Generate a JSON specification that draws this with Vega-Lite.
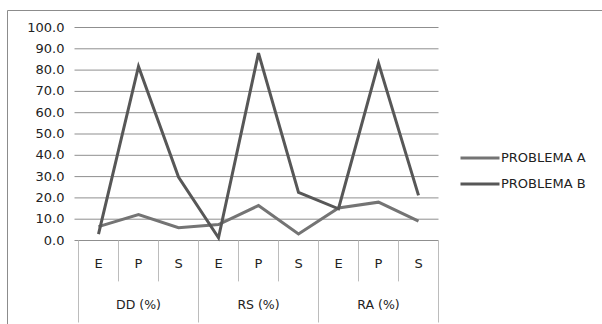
{
  "$schema": "https://vega.github.io/schema/vega-lite/v6.json",
  "width": 595,
  "height": 314,
  "autosize": {"type": "none"},
  "padding": {"left": 7, "top": 10, "right": 0, "bottom": 0},
  "background": "white",
  "config": {
    "view": {"stroke": "#8c8c8c", "strokeWidth": 1},
    "text": {"font": "DejaVu Sans", "fontSize": 13, "color": "#222222"}
  },
  "datasets": {
    "valores": [
      {"indicador": "DD (%)", "nivel": "E", "orden": 1, "problema": "PROBLEMA A", "valor": 6.5},
      {"indicador": "DD (%)", "nivel": "P", "orden": 2, "problema": "PROBLEMA A", "valor": 12.2},
      {"indicador": "DD (%)", "nivel": "S", "orden": 3, "problema": "PROBLEMA A", "valor": 6.0},
      {"indicador": "RS (%)", "nivel": "E", "orden": 4, "problema": "PROBLEMA A", "valor": 7.5},
      {"indicador": "RS (%)", "nivel": "P", "orden": 5, "problema": "PROBLEMA A", "valor": 16.4},
      {"indicador": "RS (%)", "nivel": "S", "orden": 6, "problema": "PROBLEMA A", "valor": 3.1},
      {"indicador": "RA (%)", "nivel": "E", "orden": 7, "problema": "PROBLEMA A", "valor": 15.3},
      {"indicador": "RA (%)", "nivel": "P", "orden": 8, "problema": "PROBLEMA A", "valor": 18.0},
      {"indicador": "RA (%)", "nivel": "S", "orden": 9, "problema": "PROBLEMA A", "valor": 9.1},
      {"indicador": "DD (%)", "nivel": "E", "orden": 1, "problema": "PROBLEMA B", "valor": 3.0},
      {"indicador": "DD (%)", "nivel": "P", "orden": 2, "problema": "PROBLEMA B", "valor": 81.7},
      {"indicador": "DD (%)", "nivel": "S", "orden": 3, "problema": "PROBLEMA B", "valor": 29.8},
      {"indicador": "RS (%)", "nivel": "E", "orden": 4, "problema": "PROBLEMA B", "valor": 1.3},
      {"indicador": "RS (%)", "nivel": "P", "orden": 5, "problema": "PROBLEMA B", "valor": 88.0},
      {"indicador": "RS (%)", "nivel": "S", "orden": 6, "problema": "PROBLEMA B", "valor": 22.6},
      {"indicador": "RA (%)", "nivel": "E", "orden": 7, "problema": "PROBLEMA B", "valor": 14.9},
      {"indicador": "RA (%)", "nivel": "P", "orden": 8, "problema": "PROBLEMA B", "valor": 83.3},
      {"indicador": "RA (%)", "nivel": "S", "orden": 9, "problema": "PROBLEMA B", "valor": 21.2}
    ],
    "rejilla": [
      {"v": 0}, {"v": 10}, {"v": 20}, {"v": 30}, {"v": 40}, {"v": 50},
      {"v": 60}, {"v": 70}, {"v": 80}, {"v": 90}, {"v": 100}
    ],
    "limites": [
      {"limite": 0.5, "tipo": "grupo"},
      {"limite": 1.5, "tipo": "nivel"},
      {"limite": 2.5, "tipo": "nivel"},
      {"limite": 3.5, "tipo": "grupo"},
      {"limite": 4.5, "tipo": "nivel"},
      {"limite": 5.5, "tipo": "nivel"},
      {"limite": 6.5, "tipo": "grupo"},
      {"limite": 7.5, "tipo": "nivel"},
      {"limite": 8.5, "tipo": "nivel"},
      {"limite": 9.5, "tipo": "grupo"}
    ]
  },
  "layer": [
    {
      "data": {"name": "rejilla"},
      "mark": {"type": "rule", "color": "#8f8f8f", "strokeWidth": 1},
      "encoding": {
        "y": {"field": "v", "type": "quantitative", "axis": null},
        "x": {"datum": 0.4, "type": "quantitative", "axis": null},
        "x2": {"datum": 9.5}
      }
    },
    {
      "data": {"name": "rejilla"},
      "mark": {"type": "text", "align": "right", "baseline": "middle", "dx": -14},
      "encoding": {
        "y": {"field": "v", "type": "quantitative", "axis": null},
        "x": {"datum": 0.5, "type": "quantitative", "axis": null},
        "text": {"field": "v", "type": "quantitative", "format": ".1f"}
      }
    },
    {
      "data": {"name": "limites"},
      "transform": [{"filter": "datum.tipo === 'nivel'"}],
      "mark": {"type": "rule", "color": "#bcbcbc", "strokeWidth": 1},
      "encoding": {
        "x": {"field": "limite", "type": "quantitative", "axis": null},
        "y": {"datum": 0, "type": "quantitative", "axis": null},
        "y2": {"datum": -19.2}
      }
    },
    {
      "data": {"name": "limites"},
      "transform": [{"filter": "datum.tipo === 'grupo'"}],
      "mark": {"type": "rule", "color": "#bcbcbc", "strokeWidth": 1},
      "encoding": {
        "x": {"field": "limite", "type": "quantitative", "axis": null},
        "y": {"datum": 0, "type": "quantitative", "axis": null},
        "y2": {"datum": -38.5}
      }
    },
    {
      "mark": {"type": "rule", "color": "#a6a6a6", "strokeWidth": 1},
      "encoding": {
        "x": {"datum": 0.5, "type": "quantitative", "axis": null},
        "y": {"datum": 0, "type": "quantitative", "axis": null},
        "y2": {"datum": 100}
      }
    },
    {
      "data": {"name": "valores"},
      "transform": [{"filter": "datum.problema === 'PROBLEMA A'"}],
      "mark": {"type": "text", "baseline": "middle", "align": "center"},
      "encoding": {
        "x": {"field": "orden", "type": "quantitative", "axis": null},
        "y": {"datum": -11.1, "type": "quantitative", "axis": null},
        "text": {"field": "nivel"}
      }
    },
    {
      "data": {"name": "valores"},
      "transform": [
        {"aggregate": [{"op": "mean", "field": "orden", "as": "centro"}], "groupby": ["indicador"]}
      ],
      "mark": {"type": "text", "baseline": "middle", "align": "center", "fontSize": 12.5},
      "encoding": {
        "x": {"field": "centro", "type": "quantitative", "axis": null},
        "y": {"datum": -30.2, "type": "quantitative", "axis": null},
        "text": {"field": "indicador"}
      }
    },
    {
      "data": {"name": "valores"},
      "mark": {"type": "line", "strokeWidth": 3, "strokeJoin": "miter", "strokeCap": "butt"},
      "encoding": {
        "x": {
          "field": "orden",
          "type": "quantitative",
          "scale": {"domain": [0.5, 9.5], "range": [71.5, 431.5], "nice": false, "zero": false},
          "axis": null
        },
        "y": {
          "field": "valor",
          "type": "quantitative",
          "scale": {"domain": [0, 100], "range": [230.5, 17.5], "nice": false, "zero": false},
          "axis": null
        },
        "color": {
          "field": "problema",
          "type": "nominal",
          "scale": {"domain": ["PROBLEMA A", "PROBLEMA B"], "range": ["#747474", "#575757"]},
          "legend": {
            "title": null,
            "orient": "none",
            "legendX": 465,
            "legendY": 140,
            "padding": 0,
            "symbolType": "M-3,0H3",
            "symbolSize": 169,
            "symbolStrokeWidth": 3,
            "labelOffset": 13,
            "rowPadding": 11,
            "labelFont": "DejaVu Sans",
            "labelFontSize": 13,
            "labelColor": "#222222",
            "labelLimit": 300
          }
        }
      }
    }
  ]
}
